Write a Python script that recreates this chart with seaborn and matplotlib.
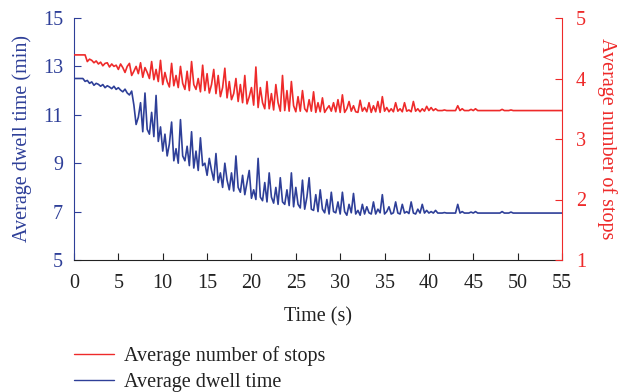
import numpy as np
import pandas as pd
import matplotlib
matplotlib.use("Agg")
import matplotlib.pyplot as plt
from matplotlib.lines import Line2D
import seaborn as sns

# time axis (s), step 0.25
time_s = np.arange(0, 55.001, 0.25)

dwell_time = [
    12.5, 12.5, 12.5, 12.5, 12.5, 12.38, 12.42, 12.3, 12.36, 12.22, 12.3, 12.26, 12.18, 12.25, 12.12, 12.2, 12.15, 12.08, 12.18, 12.05,
    12.12, 12.02, 11.95, 12.06, 11.9, 11.82, 11.98, 11.4, 10.6, 10.9, 11.5, 10.3, 11.9, 10.4, 10.2, 11.1, 10.1, 11.8, 9.9, 10.5,
    9.5, 10.2, 9.3, 9.8, 10.7, 9.1, 9.6, 9.0, 10.8, 9.3, 9.1, 9.7, 8.9, 10.3, 8.8, 9.5, 8.7, 10.05, 8.9, 9.0,
    8.5, 9.2, 8.7, 8.3, 9.4, 8.2, 8.6, 8.0, 9.0, 8.3, 7.9, 8.6, 7.85, 9.3, 8.0, 7.8, 8.5, 7.7, 8.2, 8.7,
    7.55, 7.9, 7.5, 9.2, 7.6, 7.45, 8.2, 7.4, 8.6, 7.6, 7.35, 8.0, 7.3, 8.4, 7.4, 7.3, 7.9, 7.25, 8.6, 7.2,
    8.0, 7.3, 7.15, 8.3, 7.1, 7.6, 8.4, 7.1, 7.05, 7.7, 7.0, 7.9, 7.1, 6.95, 7.5, 6.9, 7.8, 7.0, 6.95, 7.4,
    6.9, 7.8, 7.0, 6.85, 7.3, 6.95, 7.75, 6.9, 7.05, 6.85, 7.3, 6.9, 7.2, 6.95, 6.9, 7.4, 6.9, 7.1, 6.95, 7.7,
    6.9, 7.0, 7.2, 6.9, 6.95, 7.4, 6.94, 6.9, 7.3, 6.94, 7.0, 6.92, 7.4, 6.94, 6.9, 7.1, 6.94, 7.3, 6.94, 7.05,
    6.94, 7.0, 6.94, 7.05, 6.94, 6.94, 6.94, 6.96, 6.94, 6.94, 6.94, 6.94, 6.94, 7.3, 6.94, 7.0, 6.94, 6.94, 6.94, 6.98,
    6.94, 7.0, 6.94, 6.94, 6.94, 6.94, 6.94, 6.94, 6.94, 6.94, 6.94, 6.94, 6.94, 7.0, 6.94, 6.94, 6.94, 6.98, 6.94, 6.94,
    6.94, 6.94, 6.94, 6.94, 6.94, 6.94, 6.94, 6.94, 6.94, 6.94, 6.94, 6.94, 6.94, 6.94, 6.94, 6.94, 6.94, 6.94, 6.94, 6.94,
    6.94,
]

num_stops = [
    4.39, 4.39, 4.39, 4.39, 4.39, 4.39, 4.28, 4.32, 4.3, 4.26, 4.29, 4.24, 4.27, 4.21, 4.25, 4.26, 4.19, 4.24, 4.2, 4.22,
    4.15, 4.24, 4.18, 4.1, 4.2, 4.25, 4.05, 4.12, 4.2, 4.08, 4.26, 4.02, 4.18, 4.1, 4.0, 4.28, 3.98, 4.15, 3.95, 4.3,
    3.9, 4.1, 3.95, 3.86, 4.25, 3.88, 4.05, 3.85, 4.2, 3.92, 3.82, 4.12, 3.8, 4.28, 3.9, 3.82, 4.0, 3.78, 4.22, 3.8,
    4.08, 3.76, 3.9, 4.15, 3.75, 4.05, 3.7, 3.85, 4.17, 3.68, 3.95, 3.65, 3.75, 4.0, 3.62, 3.9, 3.6, 4.05, 3.58, 3.7,
    3.85, 3.56, 4.19, 3.52, 3.85, 3.6, 3.5, 3.95, 3.5, 3.75, 3.48, 3.9, 3.6, 3.46, 4.05, 3.47, 3.8, 3.46, 3.95, 3.55,
    3.45, 3.7, 3.46, 3.8, 3.5, 3.45, 3.65, 3.46, 3.78, 3.44, 3.6, 3.45, 3.68, 3.44, 3.5, 3.55, 3.46, 3.6, 3.45, 3.65,
    3.44, 3.73, 3.44, 3.5, 3.62, 3.46, 3.55, 3.45, 3.44, 3.64, 3.46, 3.52, 3.45, 3.6, 3.44, 3.55, 3.45, 3.62, 3.44, 3.7,
    3.46, 3.52, 3.45, 3.5, 3.45, 3.6, 3.46, 3.5, 3.45, 3.6, 3.46, 3.48, 3.45, 3.62, 3.46, 3.5, 3.45, 3.5, 3.46, 3.54,
    3.47, 3.52, 3.47, 3.5, 3.47, 3.47, 3.47, 3.48, 3.47, 3.47, 3.47, 3.47, 3.47, 3.55, 3.47, 3.5, 3.47, 3.47, 3.47, 3.49,
    3.47, 3.5, 3.47, 3.47, 3.47, 3.47, 3.47, 3.47, 3.47, 3.47, 3.47, 3.47, 3.47, 3.49, 3.47, 3.47, 3.47, 3.48, 3.47, 3.47,
    3.47, 3.47, 3.47, 3.47, 3.47, 3.47, 3.47, 3.47, 3.47, 3.47, 3.47, 3.47, 3.47, 3.47, 3.47, 3.47, 3.47, 3.47, 3.47, 3.47,
    3.47,
]

x_ticks = [0, 5, 10, 15, 20, 25, 30, 35, 40, 45, 50, 55]
left_ticks = [5, 7, 9, 11, 13, 15]
right_ticks = [1, 2, 3, 4, 5]

BLUE = "#2e3f98"
RED = "#ee2a2a"

sns.set_style("ticks")
plt.rcParams["font.family"] = ["Liberation Serif", "DejaVu Serif"]
FS = 14.5

df = pd.DataFrame({"t": time_s, "dwell": dwell_time, "stops": num_stops})

fig = plt.figure(figsize=(6.24, 3.92), dpi=100)
ax = fig.add_axes([74 / 624, 1 - 260 / 392, (562 - 74) / 624, (260 - 18) / 392])
ax2 = ax.twinx()

sns.lineplot(data=df, x="t", y="dwell", ax=ax, color=BLUE, lw=1.2)
sns.lineplot(data=df, x="t", y="stops", ax=ax2, color=RED, lw=1.2)

ax.set_xlim(0, 55)
ax.set_ylim(5, 15)
ax2.set_ylim(1, 5)
ax.set_xticks(x_ticks)
ax.set_yticks(left_ticks)
ax2.set_yticks(right_ticks)

ax.set_xlabel("Time (s)", fontsize=FS, color="#222222", labelpad=10)
ax.set_ylabel("Average dwell time (min)", fontsize=FS, color=BLUE, labelpad=8)
ax2.set_ylabel("Average number of stops", fontsize=FS, color=RED, rotation=270, labelpad=22)

for a in (ax, ax2):
    a.spines["top"].set_visible(False)
ax.spines["left"].set_color(BLUE)
ax.spines["right"].set_visible(False)
ax2.spines["left"].set_visible(False)
ax2.spines["right"].set_color(RED)
ax2.spines["bottom"].set_visible(False)
ax.spines["bottom"].set_color("#222222")

ax.tick_params(axis="x", direction="in", length=5, colors="#222222", labelsize=FS, pad=10)
ax.tick_params(axis="y", direction="in", length=5, colors=BLUE, labelsize=FS, pad=8)
ax2.tick_params(axis="y", direction="in", length=5, colors=RED, labelsize=FS, pad=10)

handles = [Line2D([], [], color=RED, lw=1.0), Line2D([], [], color=BLUE, lw=1.0)]
labels = ["Average number of stops", "Average dwell time"]
fig.legend(handles, labels, loc="upper left", bbox_to_anchor=(66 / 624, 1 - 338 / 392),
           frameon=False, fontsize=FS, handlelength=2.0, labelspacing=0.35, handletextpad=0.5,
           borderaxespad=0, labelcolor="#222222")

fig.savefig("out.png", dpi=100)
